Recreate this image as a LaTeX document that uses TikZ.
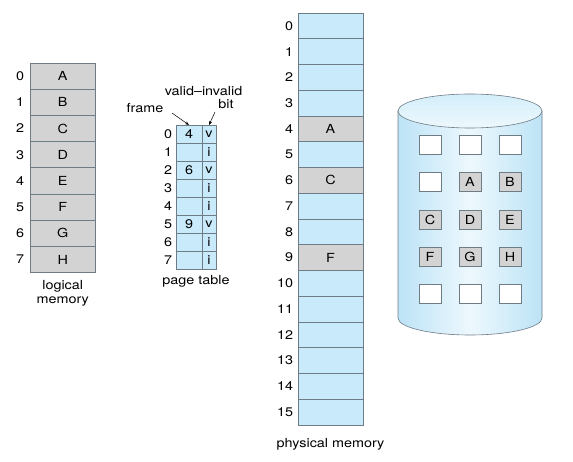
\documentclass[tikz,border=0pt]{standalone}
\usepackage{fontspec}
\setmainfont[FakeStretch=1.15]{TeX Gyre Heros}
\usetikzlibrary{arrows.meta}
\definecolor{cellblue}{HTML}{C8EAFA}
\definecolor{cellgray}{HTML}{D3D3D3}
\definecolor{linegray}{HTML}{6E7C86}
\definecolor{cylside}{HTML}{BCE3F6}
\definecolor{cylmid}{HTML}{EDF8FD}
\definecolor{cyltop}{HTML}{D4EEFA}
\begin{document}
\begin{tikzpicture}[x=1pt,y=-1pt,
  font=\fontsize{12.5}{14.5}\selectfont,
  every node/.style={inner sep=0pt, outer sep=0pt},
  lcell/.style={draw=linegray, line width=0.7pt, fill=cellgray, minimum width=64.5pt, minimum height=26.2pt},
  pfcell/.style={draw=linegray, line width=0.7pt, fill=cellblue, minimum width=26pt, minimum height=18pt},
  pvcell/.style={draw=linegray, line width=0.7pt, fill=cellblue, minimum width=14pt, minimum height=18pt},
  phcell/.style={draw=linegray, line width=0.7pt, fill=cellblue, minimum width=65pt, minimum height=25.75pt},
  phgray/.style={phcell, fill=cellgray},
  idx/.style={anchor=east},
  dsq/.style={draw=linegray, line width=0.6pt, fill=white, minimum width=22pt, minimum height=19pt},
  dsqg/.style={dsq, fill=cellgray},
  lbl/.style={align=center},
  ptr/.style={-{Stealth[length=4pt,width=3pt]}, line width=0.5pt, black}
]
\useasboundingbox (0,0) rectangle (573,462);

% logical memory
\foreach \t [count=\i from 0] in {A,B,C,D,E,F,G,H} {
  \node[lcell] (l\i) at (62.75, 63+13.1+26.2*\i) {\t};
  \node[idx] (li\i) at (24, 63+13.1+26.2*\i) {\i};
}
\node[lbl, anchor=north] (lmlab) at (62.75,280.5) {logical\\[-1pt]memory};

% page table
\foreach \f/\v [count=\i from 0] in {4/v,{}/i,6/v,{}/i,{}/i,9/v,{}/i,{}/i} {
  \node[pfcell] (pf\i) at (189, 125+9+18*\i) {\f};
  \node[pvcell] (pv\i) at (209, 125+9+18*\i) {\v};
  \node[idx] (pi\i) at (172, 125+9+18*\i) {\i};
}
\node[anchor=north] (ptlab) at (196,275) {page table};
\node (frm) at (145,108) {frame};
\node[lbl] (vib) at (203.5,97.5) {valid–invalid\\[-2pt]\hspace*{45pt}bit};
\coordinate (fa) at (172,113);
\coordinate (va) at (215,112);
\draw[ptr] (fa) -- (pf0.north);
\draw[ptr] (va) -- (pv0.north);

% physical memory
\foreach \i in {0,...,15} {
  \ifnum\i=4 \def\st{phgray}\def\tx{A}\else
  \ifnum\i=6 \def\st{phgray}\def\tx{C}\else
  \ifnum\i=9 \def\st{phgray}\def\tx{F}\else
  \def\st{phcell}\def\tx{}\fi\fi\fi
  \node[\st] (ph\i) at (330.5, 13+12.875+25.75*\i) {\tx};
  \node[idx] (phi\i) at (293, 13+12.875+25.75*\i) {\i};
}
\node[anchor=north] (phlab) at (330.5,438) {physical memory};

% disk
\shade[left color=cylside, right color=cylside, middle color=cylmid, draw=linegray, line width=0.6pt]
  (398,111) -- (398,318) arc [start angle=180, end angle=360, x radius=72pt, y radius=17pt] -- (542,111) -- cycle;
\shade[top color=cyltop, bottom color=cylmid, draw=linegray, line width=0.6pt] (470,111) ellipse [x radius=72pt, y radius=17pt];

\foreach \r [count=\j from 0] in {{w,w,w},{w,A,B},{C,D,E},{F,G,H},{w,w,w}} {
  \foreach \c [count=\k from 0] in \r {
    \pgfmathsetmacro{\xx}{430+40*\k}
    \pgfmathsetmacro{\yy}{145+37.3*\j}
    \if w\c
      \node[dsq] (d\j\k) at (\xx,\yy) {};
    \else
      \node[dsqg] (d\j\k) at (\xx,\yy) {\c};
    \fi
  }
}
\end{tikzpicture}
\end{document}
